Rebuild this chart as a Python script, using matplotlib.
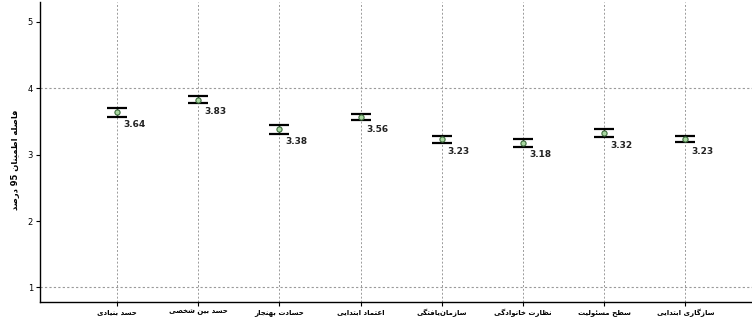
import re
import matplotlib
matplotlib.use("Agg")
import matplotlib.pyplot as plt
import numpy as np

categories = ["حسد بنیادی", "حسد بین شخصی", "حسادت بهنجار", "اعتماد ابتدایی",
              "سازمان‌یافتگی", "نظارت خانوادگی", "سطح مسئولیت",
              "سازگاری ابتدایی"]
means = [3.64, 3.83, 3.38, 3.56, 3.23, 3.18, 3.32, 3.23]
ci_low = [3.57, 3.78, 3.31, 3.515, 3.18, 3.12, 3.26, 3.185]
ci_high = [3.71, 3.88, 3.45, 3.605, 3.28, 3.24, 3.38, 3.275]
y_ticks = [1, 2, 3, 4, 5]
ref_lines = [1, 4]
y_label = "فاصله اطمینان 95 درصد"

# (isolated, final, initial, medial) presentation forms
FORMS = {
    "\u0627": (0xFE8D, 0xFE8E), "\u0622": (0xFE81, 0xFE82),
    "\u062F": (0xFEA9, 0xFEAA), "\u0630": (0xFEAB, 0xFEAC),
    "\u0631": (0xFEAD, 0xFEAE), "\u0632": (0xFEAF, 0xFEB0),
    "\u0698": (0xFB8A, 0xFB8B), "\u0648": (0xFEED, 0xFEEE),
    "\u0628": (0xFE8F, 0xFE90, 0xFE91, 0xFE92), "\u067E": (0xFB56, 0xFB57, 0xFB58, 0xFB59),
    "\u062A": (0xFE95, 0xFE96, 0xFE97, 0xFE98), "\u062B": (0xFE99, 0xFE9A, 0xFE9B, 0xFE9C),
    "\u062C": (0xFE9D, 0xFE9E, 0xFE9F, 0xFEA0), "\u0686": (0xFB7A, 0xFB7B, 0xFB7C, 0xFB7D),
    "\u062D": (0xFEA1, 0xFEA2, 0xFEA3, 0xFEA4), "\u062E": (0xFEA5, 0xFEA6, 0xFEA7, 0xFEA8),
    "\u0633": (0xFEB1, 0xFEB2, 0xFEB3, 0xFEB4), "\u0634": (0xFEB5, 0xFEB6, 0xFEB7, 0xFEB8),
    "\u0635": (0xFEB9, 0xFEBA, 0xFEBB, 0xFEBC), "\u0636": (0xFEBD, 0xFEBE, 0xFEBF, 0xFEC0),
    "\u0637": (0xFEC1, 0xFEC2, 0xFEC3, 0xFEC4), "\u0638": (0xFEC5, 0xFEC6, 0xFEC7, 0xFEC8),
    "\u0639": (0xFEC9, 0xFECA, 0xFECB, 0xFECC), "\u063A": (0xFECD, 0xFECE, 0xFECF, 0xFED0),
    "\u0641": (0xFED1, 0xFED2, 0xFED3, 0xFED4), "\u0642": (0xFED5, 0xFED6, 0xFED7, 0xFED8),
    "\u06A9": (0xFB8E, 0xFB8F, 0xFB90, 0xFB91), "\u06AF": (0xFB92, 0xFB93, 0xFB94, 0xFB95),
    "\u0644": (0xFEDD, 0xFEDE, 0xFEDF, 0xFEE0), "\u0645": (0xFEE1, 0xFEE2, 0xFEE3, 0xFEE4),
    "\u0646": (0xFEE5, 0xFEE6, 0xFEE7, 0xFEE8), "\u0647": (0xFEE9, 0xFEEA, 0xFEEB, 0xFEEC),
    "\u06CC": (0xFBFC, 0xFBFD, 0xFBFE, 0xFBFF), "\u0626": (0xFE89, 0xFE8A, 0xFE8B, 0xFE8C),
}


def shape(text):
    # crude arabic-script shaping + right-to-left ordering for matplotlib
    chars = list(text)
    out = []
    for i, c in enumerate(chars):
        if c not in FORMS:
            if c != "\u200c":
                out.append(c)
            continue
        prev = chars[i - 1] if i > 0 else ""
        nxt = chars[i + 1] if i + 1 < len(chars) else ""
        join_prev = prev in FORMS and len(FORMS[prev]) == 4
        join_next = len(FORMS[c]) == 4 and nxt in FORMS
        f = FORMS[c]
        if join_prev and join_next:
            out.append(chr(f[3]))
        elif join_next:
            out.append(chr(f[2]))
        elif join_prev:
            out.append(chr(f[1]))
        else:
            out.append(chr(f[0]))
    vis = "".join(reversed(out))
    return re.sub(r"[0-9.]+", lambda m: m.group(0)[::-1], vis)


plt.rcParams["font.family"] = ["DejaVu Sans"]

fig = plt.figure(figsize=(7.52, 3.2), dpi=100)
ax = fig.add_axes([0.053, 0.056, 0.947, 0.938])

x = np.arange(1, len(categories) + 1)
means_a = np.array(means)
yerr = [means_a - np.array(ci_low), np.array(ci_high) - means_a]

for xv in x:
    ax.axvline(xv, color="#9a9a9a", lw=0.7, ls=(0, (2, 2)), zorder=0)
for yv in ref_lines:
    ax.axhline(yv, color="#9a9a9a", lw=0.8, ls=(0, (2, 2)), zorder=0)

ax.errorbar(x, means, yerr=yerr, fmt="none", ecolor="black", elinewidth=1.0,
            capsize=7, capthick=1.6, zorder=2)
ax.scatter(x, means, s=14, marker="o", facecolor="#a8d8a0", edgecolor="#3d6b3d",
           linewidth=0.8, zorder=3)

for xv, m in zip(x, means):
    ax.annotate(f"{m:.2f}", (xv, m), xytext=(6, -12), textcoords="offset pixels",
                fontsize=6.5, fontweight="bold", color="#222222", va="center", ha="left")

ax.set_xlim(0.05, 8.82)
ax.set_ylim(0.78, 5.3)
ax.set_yticks(y_ticks)
ax.set_yticklabels([str(v) for v in y_ticks], fontsize=6)
ax.set_xticks(x)
ax.set_xticklabels([shape(c) for c in categories], fontsize=5, fontweight="bold")
ax.tick_params(axis="both", length=3, width=0.8, pad=2)

for s in ["top", "right"]:
    ax.spines[s].set_visible(False)
for s in ["left", "bottom"]:
    ax.spines[s].set_linewidth(1.0)

fig.text(0.02, 0.5, shape(y_label), rotation=90, fontsize=6, fontweight="bold",
         va="center", ha="center")

fig.savefig("out.png", dpi=100)
